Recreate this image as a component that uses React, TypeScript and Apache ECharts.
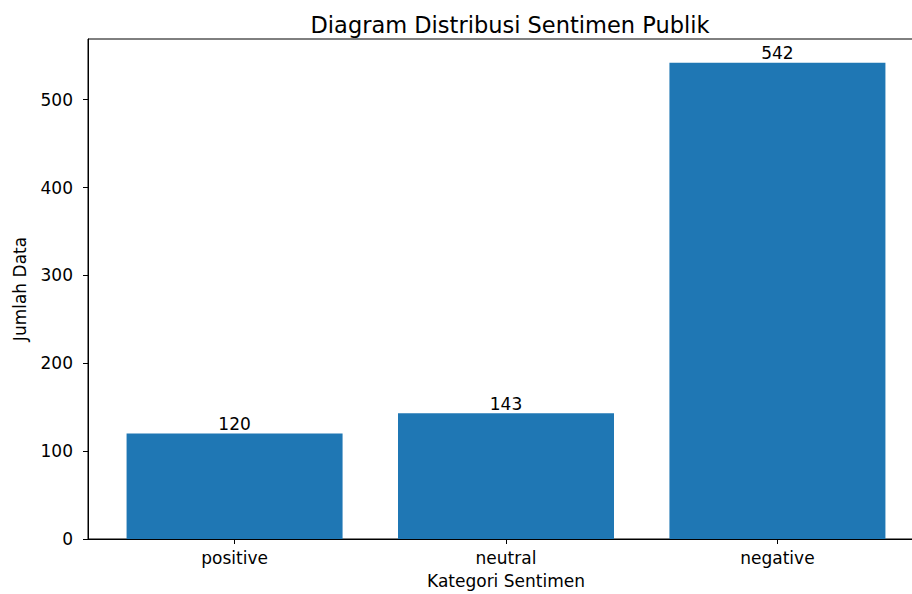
import React, { useEffect, useRef } from "react";
import * as echarts from "echarts";

const categories = ["positive", "neutral", "negative"];
const counts = [120, 143, 542];
const yTicks = [0, 100, 200, 300, 400, 500];

export default function App() {
  const ref = useRef<HTMLDivElement>(null);
  useEffect(() => {
    const chart = echarts.init(ref.current!, null, { renderer: "svg" });
    const font = "DejaVu Sans";
    chart.setOption({
      animation: false,
      textStyle: { fontFamily: font },
      title: {
        text: "Diagram Distribusi Sentimen Publik",
        left: 505,
        textAlign: "center",
        top: 8,
        textStyle: { fontFamily: font, fontSize: 22.5, fontWeight: "normal", color: "#000" },
      },
      grid: {
        left: 88,
        top: 39,
        right: 6,
        bottom: 52,
        show: true,
        borderColor: "#000",
        borderWidth: 1,
        backgroundColor: "transparent",
      },
      xAxis: {
        type: "value",
        min: -0.54,
        max: 2.54,
        name: "Kategori Sentimen",
        nameLocation: "middle",
        nameGap: 33,
        nameTextStyle: { fontFamily: font, fontSize: 17, color: "#000" },
        axisLine: { show: true, onZero: false, lineStyle: { color: "#000", width: 1 } },
        axisTick: { show: true, length: 5, customValues: [0, 1, 2], lineStyle: { color: "#000" } },
        axisLabel: {
          customValues: [0, 1, 2],
          formatter: (v: number) => categories[Math.round(v)] ?? "",
          fontFamily: font,
          fontSize: 17,
          color: "#000",
          margin: 10,
        },
        splitLine: { show: false },
      },
      yAxis: {
        type: "value",
        min: 0,
        max: 542 * 1.05,
        interval: 100,
        name: "Jumlah Data",
        nameLocation: "middle",
        nameGap: 60,
        nameTextStyle: { fontFamily: font, fontSize: 17, color: "#000" },
        axisLine: { show: true, onZero: false, lineStyle: { color: "#000", width: 1 } },
        axisTick: { show: true, length: 5, customValues: yTicks, lineStyle: { color: "#000" } },
        axisLabel: {
          customValues: yTicks,
          fontFamily: font,
          fontSize: 17,
          color: "#000",
          margin: 15,
        },
        splitLine: { show: false },
      },
      series: [
        {
          type: "bar",
          data: counts.map((c, i) => [i, c]),
          barWidth: 216,
          itemStyle: { color: "#1f77b4" },
          label: {
            show: true,
            position: "top",
            distance: 1,
            fontFamily: font,
            fontSize: 17,
            color: "#000",
          },
        },
      ],
    });
    return () => chart.dispose();
  }, []);
  return (
    <div style={{ position: "fixed", left: 0, top: 0, width: 912, height: 594, overflow: "hidden", background: "#fff" }}>
      <div ref={ref} style={{ width: 930, height: 594 }} />
    </div>
  );
}
